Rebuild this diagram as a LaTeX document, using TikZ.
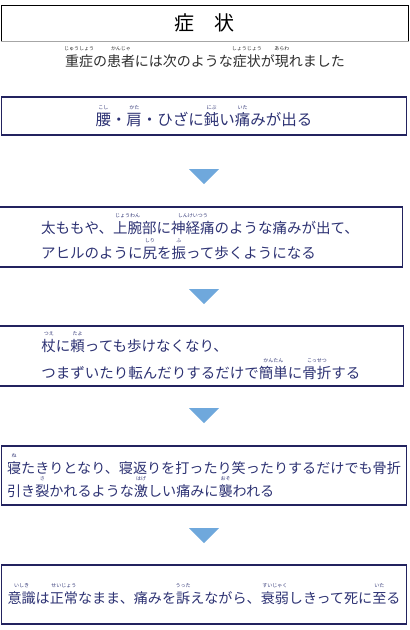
\documentclass[tikz,border=0pt]{standalone}
\usepackage{fontspec}
\setmainfont{Noto Sans CJK JP}
\definecolor{boxnavy}{RGB}{35,35,95}
\definecolor{textnavy}{RGB}{45,50,115}
\definecolor{leadgray}{RGB}{45,45,45}
\definecolor{triblue}{RGB}{111,168,220}
% ruby over a base word
\newcommand\furi[2]{\leavevmode\setbox0\hbox{#1}%
 \rlap{\hbox to\wd0{\hss\raisebox{16pt}{\fontsize{5}{5}\selectfont #2}\hss}}\box0}

\begin{document}
\begin{tikzpicture}[x=1pt,y=-1pt,
 titlebox/.style={draw=black,line width=1pt,minimum width=407pt,minimum height=36pt,
  font=\fontsize{20}{20}\selectfont},
 stagebox/.style={draw=boxnavy,line width=1.1pt,minimum width=405pt,inner xsep=2pt,
  align=left,text=textnavy},
 downtri/.style={fill=triblue}]
 \useasboundingbox (0,0) rectangle (410,630);
 \node[titlebox] (title) at (204.5,23) {症\quad 状};
 \draw[gray!70,line width=1.2pt] (title.south west)--(title.south east);
 \node[text=leadgray,font=\fontsize{14}{20}\selectfont] (lead) at (205,57)
  {\furi{重症}{じゅうしょう}の\furi{患者}{かんじゃ}には次のような\furi{症状}{しょうじょう}が\furi{現}{あらわ}れました};
 \node[stagebox,minimum height=38pt,font=\fontsize{15.5}{25}\selectfont] (s1) at (204,116)
  {\furi{腰}{こし}・\furi{肩}{かた}・ひざに\furi{鈍}{にぶ}い\furi{痛}{いた}みが出る};
 \node[stagebox,minimum height=60pt,font=\fontsize{14.5}{25}\selectfont] (s2) at (200,237)
  {太ももや、\furi{上腕}{じょうわん}部に\furi{神経痛}{しんけいつう}のような痛みが出て、\\
   アヒルのように\furi{尻}{しり}を\furi{振}{ふ}って歩くようになる};
 \node[stagebox,minimum height=60pt,font=\fontsize{14.5}{27}\selectfont] (s3) at (201,356)
  {\furi{杖}{つえ}に\furi{頼}{たよ}っても歩けなくなり、\\
   つまずいたり転んだりするだけで\furi{簡単}{かんたん}に\furi{骨折}{こっせつ}する};
 \node[stagebox,minimum height=59pt,font=\fontsize{14.1}{23}\selectfont] (s4) at (204,475.5)
  {\furi{寝}{ね}たきりとなり、寝返りを打ったり笑ったりするだけでも骨折\\
   引き\furi{裂}{さ}かれるような\furi{激}{はげ}しい痛みに\furi{襲}{おそ}われる};
 \node[stagebox,minimum height=59pt,font=\fontsize{14.1}{23}\selectfont] (s5) at (204,594.5)
  {\furi{意識}{いしき}は\furi{正常}{せいじょう}なまま、痛みを\furi{訴}{うった}えながら、\furi{衰弱}{すいじゃく}しきって死に\furi{至}{いた}る};
 \foreach \ty in {169,289,408,528}
  \fill[downtri] (189,\ty)--(219,\ty)--(204,\ty+15)--cycle;
\end{tikzpicture}
\end{document}
